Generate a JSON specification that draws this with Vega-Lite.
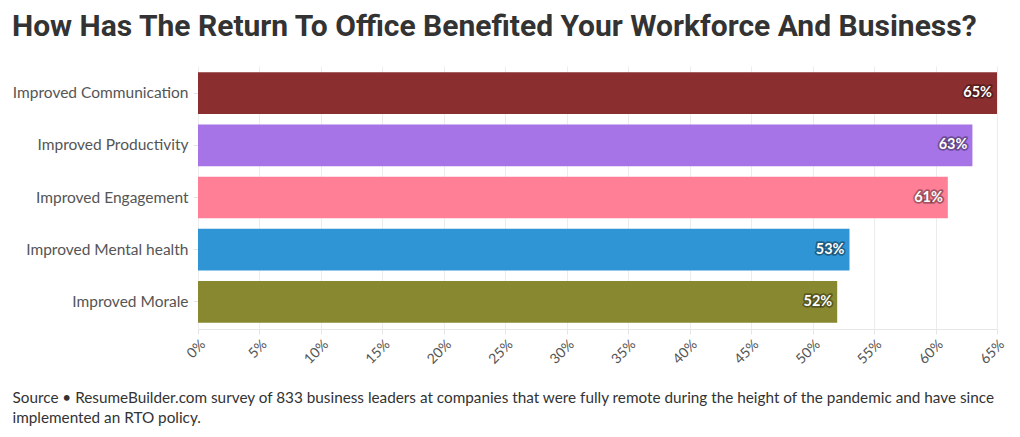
{
  "$schema": "https://vega.github.io/schema/vega-lite/v6.json",
  "width": 799,
  "height": 263,
  "autosize": {"type": "none"},
  "padding": {"left": 198, "top": 66, "right": 23, "bottom": 108},
  "background": "white",
  "title": {
    "text": "How Has The Return To Office Benefited Your Workforce And Business?",
    "anchor": "start",
    "frame": "group",
    "dx": -186,
    "offset": 24,
    "font": "Roboto",
    "fontSize": 30,
    "fontWeight": "bold",
    "color": "#333333"
  },
  "config": {
    "view": {"stroke": null},
    "font": "Lato"
  },
  "data": {
    "values": [
      {"benefit": "Improved Communication", "share": 0.65},
      {"benefit": "Improved Productivity", "share": 0.63},
      {"benefit": "Improved Engagement", "share": 0.61},
      {"benefit": "Improved Mental health", "share": 0.53},
      {"benefit": "Improved Morale", "share": 0.52}
    ]
  },
  "encoding": {
    "y": {
      "field": "benefit",
      "type": "nominal",
      "sort": null,
      "scale": {"paddingInner": 0.2, "paddingOuter": 0.12},
      "axis": {
        "title": null,
        "labelFont": "Lato",
        "labelFontSize": 15.5,
        "labelColor": "#555555",
        "labelPadding": 5,
        "tickSize": 5,
        "tickColor": "#e6e6e6",
        "domain": false,
        "grid": false
      }
    },
    "x": {
      "field": "share",
      "type": "quantitative",
      "scale": {"domain": [0, 0.65], "nice": false},
      "axis": {
        "values": [0, 0.05, 0.1, 0.15, 0.2, 0.25, 0.3, 0.35, 0.4, 0.45, 0.5, 0.55, 0.6, 0.65],
        "format": ".0%",
        "labelAngle": -45,
        "labelFont": "Lato",
        "labelFontSize": 14,
        "labelColor": "#555555",
        "labelPadding": 3,
        "tickSize": 5,
        "tickColor": "#e6e6e6",
        "domainColor": "#e6e6e6",
        "gridColor": "#ececec",
        "title": ["Source • ResumeBuilder.com survey of 833 business leaders at companies that were fully remote during the height of the pandemic and have since", "implemented an RTO policy."],
        "titleAnchor": "start",
        "titleAlign": "left",
        "titleX": -186,
        "titleY": 73,
        "titleBaseline": "alphabetic",
        "titleFont": "Lato",
        "titleFontSize": 15.3,
        "titleFontWeight": "normal",
        "titleColor": "#333333",
        "titleLineHeight": 20
      }
    }
  },
  "layer": [
    {
      "mark": {"type": "bar"},
      "encoding": {
        "color": {
          "field": "benefit",
          "type": "nominal",
          "sort": null,
          "scale": {
            "domain": ["Improved Communication", "Improved Productivity", "Improved Engagement", "Improved Mental health", "Improved Morale"],
            "range": ["#8a2e2f", "#a674e6", "#ff7f97", "#2f95d4", "#888830"]
          },
          "legend": null
        }
      }
    },
    {
      "mark": {"type": "text", "align": "right", "baseline": "middle", "dx": -5, "fontSize": 14.5, "fontWeight": "bold", "stroke": "#000000", "strokeOpacity": 0.35, "strokeWidth": 3.5, "strokeJoin": "round", "fill": "#000000", "fillOpacity": 0.35},
      "encoding": {"text": {"field": "share", "type": "quantitative", "format": ".0%"}}
    },
    {
      "mark": {"type": "text", "align": "right", "baseline": "middle", "dx": -5, "fontSize": 14.5, "fontWeight": "bold", "fill": "white"},
      "encoding": {"text": {"field": "share", "type": "quantitative", "format": ".0%"}}
    }
  ]
}
